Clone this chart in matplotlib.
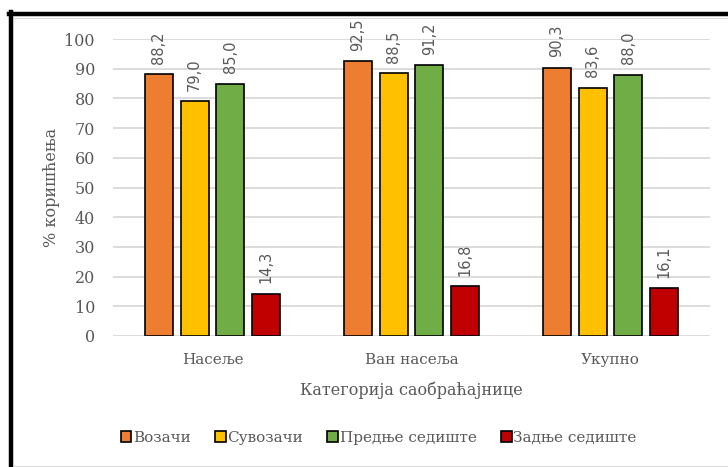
import matplotlib
matplotlib.use("Agg")
import matplotlib.pyplot as plt
import numpy as np
from matplotlib.patches import Patch
from matplotlib.lines import Line2D

categories = ["Насеље", "Ван насеља", "Укупно"]
series_names = ["Возачи", "Сувозачи", "Предње седиште", "Задње седиште"]
vozaci = [88.2, 92.5, 90.3]
suvozaci = [79.0, 88.5, 83.6]
prednje = [85.0, 91.2, 88.0]
zadnje = [14.3, 16.8, 16.1]
colors = ["#ED7D31", "#FFC000", "#70AD47", "#C00000"]
yticks = list(range(0, 101, 10))

series = [vozaci, suvozaci, prednje, zadnje]

serif = "DejaVu Serif"
gray = "#595959"

fig = plt.figure(figsize=(7.28, 4.67), dpi=100)
ax = fig.add_axes([113/728, 1-336/467, (710-113)/728, (336-39)/467])

x = np.arange(len(categories))
w = 0.14
offsets = [-0.27, -0.09, 0.09, 0.27]
for vals, off, c in zip(series, offsets, colors):
    bars = ax.bar(x + off, vals, width=w, color=c, edgecolor="black", linewidth=1.2, zorder=3)
    for b, v in zip(bars, vals):
        ax.annotate(f"{v:.1f}".replace(".", ","), (b.get_x() + b.get_width()/2, v),
                    xytext=(0, 7.5), textcoords="offset points", rotation=90,
                    ha="center", va="bottom", fontsize=10.5, color=gray,
                    family="DejaVu Sans", annotation_clip=False)

ax.set_xlim(-0.5, 2.5)
ax.set_ylim(0, 100)
ax.set_yticks(yticks)
ax.set_yticklabels([str(t) for t in yticks], family=serif, fontsize=11.5, color=gray)
ax.set_xticks(x)
ax.set_xticklabels(categories, family=serif, fontsize=11, color=gray)
ax.tick_params(axis="both", length=0)
ax.tick_params(axis="x", pad=12)
ax.tick_params(axis="y", pad=13)
ax.grid(axis="y", color="#D9D9D9", linewidth=1.3, zorder=0)
for s in ax.spines.values():
    s.set_visible(False)

ax.set_xlabel("Категорија саобраћајнице", family=serif, fontsize=11.5, color=gray, labelpad=11)
ax.set_ylabel("% коришћења", family=serif, fontsize=11.5, color=gray, labelpad=3)

handles = [Patch(facecolor=c, edgecolor="black", linewidth=1.2, label=n) for c, n in zip(colors, series_names)]
fig.legend(handles=handles, loc="center", bbox_to_anchor=(0.52, 1-438/467), ncol=4, frameon=False,
           prop={"family": serif, "size": 11}, labelcolor=gray, handlelength=0.7, handleheight=0.7,
           handletextpad=0.1, columnspacing=1.6)

# frame: thin gray inner border, thick black top/left
fig.add_artist(Line2D([11/728, 11/728], [0, 1-12/467], color="black", linewidth=3.2, transform=fig.transFigure))
fig.add_artist(Line2D([9/728, 1], [1-14/467, 1-14/467], color="black", linewidth=3.2, transform=fig.transFigure))
fig.add_artist(Line2D([14/728, 1], [1-18/467, 1-18/467], color="#D9D9D9", linewidth=0.8, transform=fig.transFigure))
fig.add_artist(Line2D([14/728, 1], [1-465.5/467, 1-465.5/467], color="#D9D9D9", linewidth=0.8, transform=fig.transFigure))

fig.savefig("out.png", dpi=100)
